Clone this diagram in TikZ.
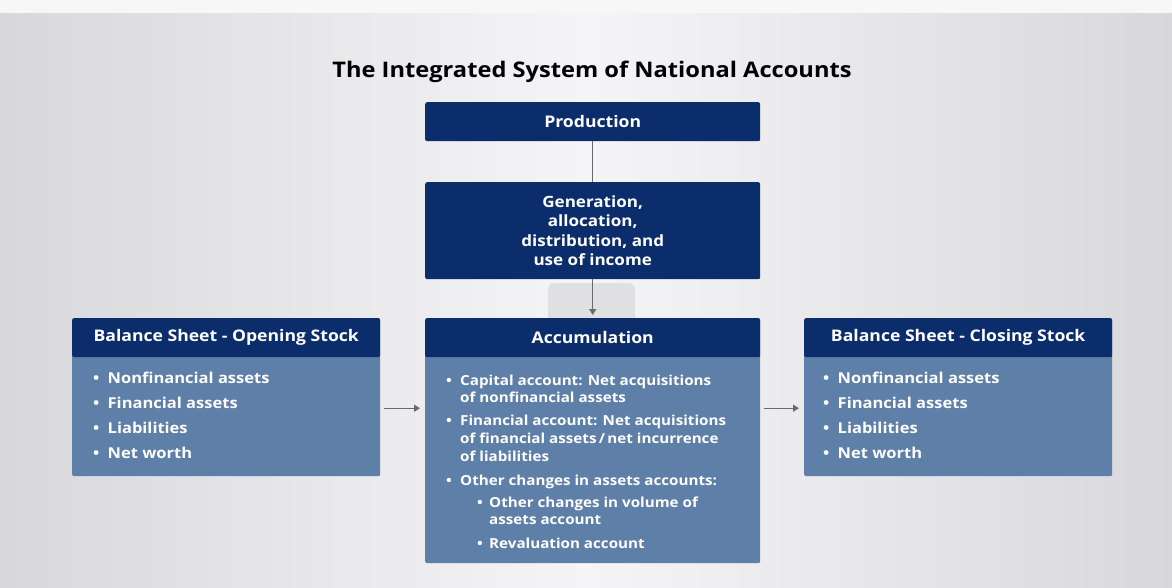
\documentclass[tikz,border=0pt]{standalone}
\usepackage{fontspec}
\setmainfont[FakeStretch=1.1]{Open Sans}
\usetikzlibrary{arrows.meta}
\definecolor{navy}{HTML}{0B2D6B}
\definecolor{steel}{HTML}{5D7FA8}
\definecolor{conn}{HTML}{6A6A6A}
\definecolor{bgedge}{HTML}{D8D8DC}
\definecolor{bgmid}{HTML}{F5F5F7}
\definecolor{bgtop}{HTML}{F7F7F7}
\definecolor{ghost}{HTML}{E0E0E2}
\begin{document}
\begin{tikzpicture}[x=1pt,y=-1pt,
  hdr/.style={fill=navy, text=white, font=\bfseries\fontsize{16}{19}\selectfont,
    rounded corners=2pt, inner sep=0pt, anchor=north west, align=center},
  body/.style={fill=steel, rounded corners=2pt, inner sep=0pt, anchor=north west},
  item/.style={text=white, font=\bfseries\fontsize{15}{18}\selectfont, inner sep=0pt, anchor=base west},
  acc/.style={text=white, font=\bfseries\fontsize{13.8}{16}\selectfont, inner sep=0pt, anchor=base west},
  arr/.style={draw=conn, line width=1.4pt, -{Triangle[length=6pt,width=7pt]}},
  link/.style={draw=conn, line width=1.4pt}
]
\useasboundingbox (0,0) rectangle (1172,588);
\fill[bgtop] (0,0) rectangle (1172,14);
\shade[left color=bgedge, right color=bgedge, middle color=bgmid] (0,14) rectangle (1172,588);

% title
\node[font=\bfseries\fontsize{21.5}{25}\selectfont, text=black, inner sep=0pt] (title) at (592,72) {The Integrated System of National Accounts};

% production and generation
\node[hdr, minimum width=335pt, minimum height=39pt] (prod) at (425,102) {Production};
\node[hdr, minimum width=335pt, minimum height=97pt, font=\bfseries\fontsize{15.5}{19.5}\selectfont] (gen) at (425,182)
  {Generation,\\allocation,\\distribution, and\\use of income};

% ghost control behind the arrow
\fill[ghost, rounded corners=6pt] (548,283) rectangle (635,330);

% left box
\node[body, minimum width=308pt, minimum height=158pt] (lbody) at (72,318) {};
\node[hdr, minimum width=308pt, minimum height=39pt] (lhdr) at (72,318) {Balance Sheet - Opening Stock};
\node[item] (l1) at (93,383.5) {\makebox[14.5pt][l]{•}Nonfinancial assets};
\node[item] (l2) at (93,408.5) {\makebox[14.5pt][l]{•}Financial assets};
\node[item] (l3) at (93,433.5) {\makebox[14.5pt][l]{•}Liabilities};
\node[item] (l4) at (93,458.5) {\makebox[14.5pt][l]{•}Net worth};

% right box
\node[body, minimum width=308pt, minimum height=158pt] (rbody) at (804,318) {};
\node[hdr, minimum width=308pt, minimum height=39pt] (rhdr) at (804,318) {Balance Sheet - Closing Stock};
\node[item] (r1) at (823,383.5) {\makebox[14.5pt][l]{•}Nonfinancial assets};
\node[item] (r2) at (823,408.5) {\makebox[14.5pt][l]{•}Financial assets};
\node[item] (r3) at (823,433.5) {\makebox[14.5pt][l]{•}Liabilities};
\node[item] (r4) at (823,458.5) {\makebox[14.5pt][l]{•}Net worth};

% accumulation box
\node[body, minimum width=335pt, minimum height=245pt] (abody) at (425,318) {};
\node[hdr, minimum width=335pt, minimum height=39pt] (ahdr) at (425,318) {Accumulation};
\node[acc] (a1) at (446,385) {\makebox[14pt][l]{•}Capital account: Net acquisitions};
\node[acc] (a2) at (460,402) {of nonfinancial assets};
\node[acc] (a3) at (446,425) {\makebox[14pt][l]{•}Financial account: Net acquisitions};
\node[acc] (a4) at (460,443) {of financial assets\,/\,net incurrence};
\node[acc] (a5) at (460,461) {of liabilities};
\node[acc] (a6) at (446,485) {\makebox[14pt][l]{•}Other changes in assets accounts:};
\node[acc] (a7) at (477,507) {\makebox[12pt][l]{•}Other changes in volume of};
\node[acc] (a8) at (489,524) {assets account};
\node[acc] (a9) at (477,548) {\makebox[12pt][l]{•}Revaluation account};

% connectors
\draw[link] (prod.south) -- (gen.north);
\draw[arr] (gen.south) -- ([yshift=3pt]ahdr.north);
\draw[arr, shorten <=4pt, shorten >=5pt] ([yshift=-11pt]lbody.east) -- ([yshift=-11pt]lbody.east -| abody.west);
\draw[arr, shorten <=4pt, shorten >=5pt] ([yshift=-11pt]lbody.east -| abody.east) -- ([yshift=-11pt]lbody.east -| rbody.west);
\end{tikzpicture}
\end{document}
